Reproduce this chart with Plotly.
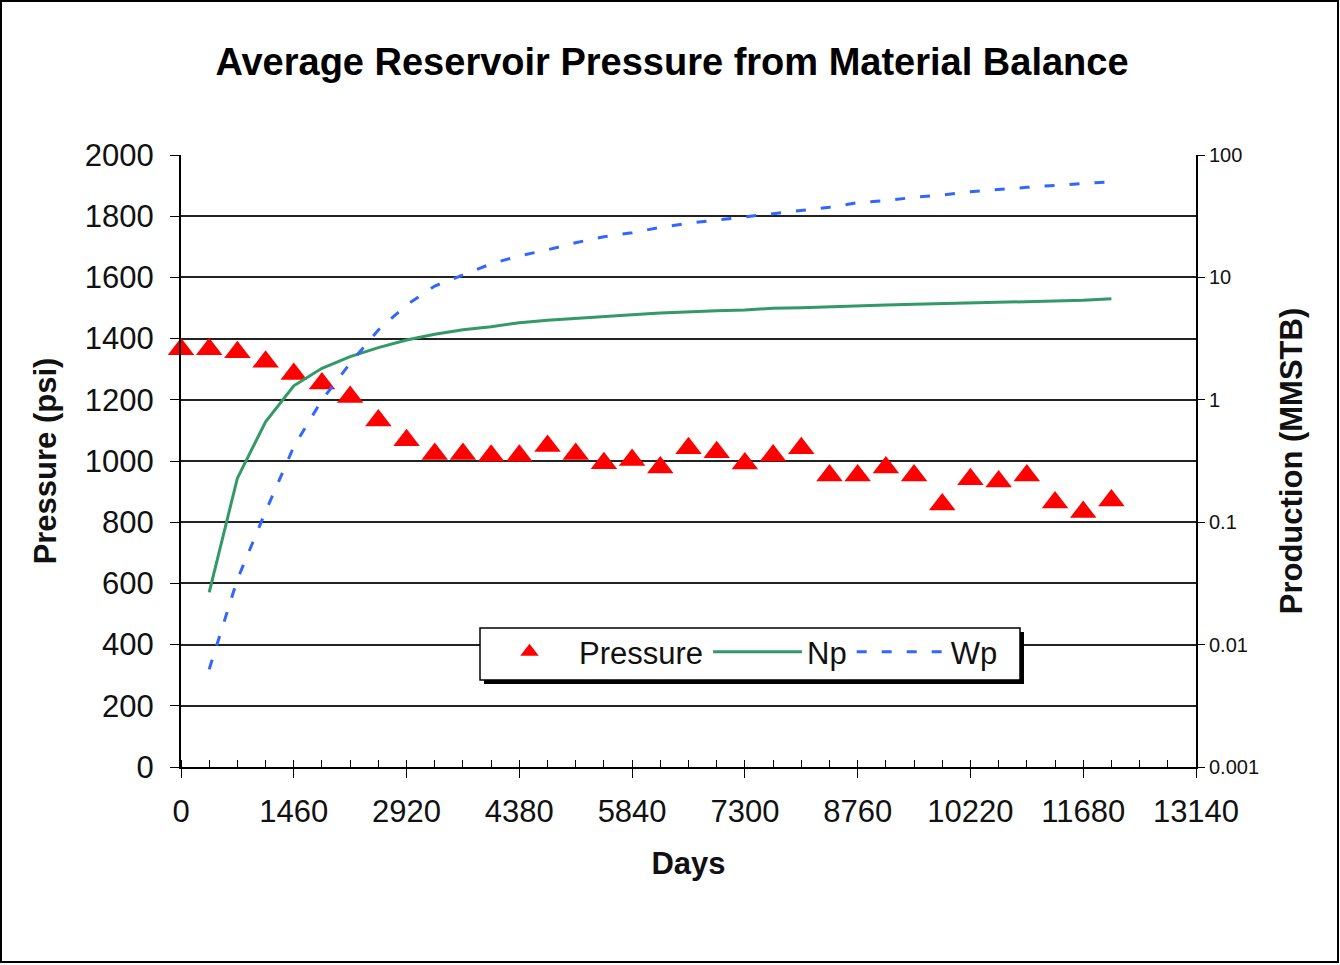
import plotly.graph_objects as go

# days since start (annual steps)
days = [0, 365, 730, 1095, 1460, 1825, 2190, 2555, 2920, 3285, 3650, 4015,
        4380, 4745, 5110, 5475, 5840, 6205, 6570, 6935, 7300, 7665, 8030,
        8395, 8760, 9125, 9490, 9855, 10220, 10585, 10950, 11315, 11680, 12045]

# average reservoir pressure, psi
pressure = [1365, 1365, 1355, 1324, 1284, 1253, 1209, 1132, 1068, 1023, 1023,
            1017, 1017, 1049, 1023, 993, 1003, 979, 1042, 1029, 992, 1018,
            1042, 953, 953, 979, 953, 858, 940, 933, 953, 864, 833, 871]

# cumulative production, MMSTB (start at day 365)
prod_days = days[1:]
np_oil = [0.0267, 0.229, 0.662, 1.30, 1.81, 2.25, 2.67, 3.08, 3.43, 3.74,
          3.96, 4.27, 4.46, 4.60, 4.78, 4.96, 5.12, 5.25, 5.35, 5.42, 5.60,
          5.65, 5.77, 5.88, 5.95, 6.03, 6.10, 6.18, 6.26, 6.33, 6.41, 6.50, 6.70]
wp_water = [0.00628, 0.0341, 0.122, 0.414, 0.996, 1.99, 3.72, 5.95, 8.51,
            10.4, 12.9, 15.0, 16.8, 19.2, 21.5, 23.2, 25.6, 27.7, 29.4, 31.3,
            33.4, 35.6, 37.4, 40.8, 42.4, 45.1, 47.1, 50.1, 52.4, 54.4, 56.5,
            58.6, 60.5]

x_ticks = [0, 1460, 2920, 4380, 5840, 7300, 8760, 10220, 11680, 13140]
x_labels = ["0", "1460", "2920", "4380", "5840", "7300", "8760", "10220",
            "11680", "13140"]
p_ticks = [0, 200, 400, 600, 800, 1000, 1200, 1400, 1600, 1800, 2000]
prod_ticks = [0.001, 0.01, 0.1, 1, 10, 100]
prod_labels = ["0.001", "0.01", "0.1", "1", "10", "100"]

W, H = 1340, 965
L, R, T, B = 181, 1196, 155, 767


def px(x):
    return (x - L) / (R - L)


def py(y):
    return (B - y) / (B - T)


FONT = "Liberation Sans, Arial, sans-serif"

fig = go.Figure()
fig.add_trace(go.Scatter(
    x=days, y=pressure, name="Pressure", mode="markers",
    marker=dict(symbol="triangle-up", size=23, color="#FF0000"),
    cliponaxis=False,
))
fig.add_trace(go.Scatter(
    x=prod_days, y=np_oil, name="Np", mode="lines", yaxis="y2",
    line=dict(color="#339966", width=3),
))
fig.add_trace(go.Scatter(
    x=prod_days, y=wp_water, name="Wp", mode="lines", yaxis="y2",
    line=dict(color="#3366FF", width=3, dash="10px,15px"),
))

fig.update_layout(
    width=W, height=H,
    margin=dict(l=L, r=W - R, t=T, b=H - B, pad=0),
    paper_bgcolor="white", plot_bgcolor="white",
    font=dict(family=FONT, color="#111", size=31),
    title=dict(text="<b>Average Reservoir Pressure from Material Balance</b>",
               x=0.5015, xanchor="center", y=1 - 62 / H, yanchor="middle",
               font=dict(size=38, color="black")),
    xaxis=dict(
        range=[0, 13140], tickvals=x_ticks, ticktext=x_labels,
        showgrid=False, zeroline=False,
        showline=True, linecolor="black", linewidth=2,
        ticks="outside", ticklen=9, tickcolor="black",
        ticklabelstandoff=7,
        minor=dict(dtick=365, tick0=0, ticks="inside", ticklen=7,
                   tickcolor="black", showgrid=False),
        title=dict(text="<b>Days</b>", standoff=24, font=dict(size=31)),
    ),
    yaxis=dict(
        range=[0, 2000], tickvals=p_ticks, showgrid=True, gridcolor="#222",
        gridwidth=2, zeroline=False, showline=True, linecolor="black",
        linewidth=2, ticks="outside", ticklen=9, tickcolor="black",
        ticklabelstandoff=10,
        title=dict(text="<b>Pressure (psi)</b>", standoff=19,
                   font=dict(size=31)),
    ),
    yaxis2=dict(
        type="log", range=[-3, 2], tickvals=prod_ticks, ticktext=prod_labels,
        overlaying="y", side="right", showgrid=False, zeroline=False,
        showline=True, linecolor="black", linewidth=2, ticks="outside",
        ticklen=7, tickcolor="black", tickfont=dict(size=20),
        title=dict(text="<b>Production (MMSTB)</b>", standoff=22,
                   font=dict(size=31)),
    ),
    legend=dict(
        orientation="h", x=px(480), y=py(625), xanchor="left", yanchor="top",
        bgcolor="rgba(0,0,0,0)", borderwidth=0,
        font=dict(size=31), itemwidth=89, traceorder="normal",
    ),
    shapes=[
        # legend drop shadow and box
        dict(type="rect", xref="paper", yref="paper",
             x0=px(484), x1=px(1024), y0=py(684), y1=py(632),
             fillcolor="black", line=dict(width=0), layer="above"),
        dict(type="rect", xref="paper", yref="paper",
             x0=px(480), x1=px(1020), y0=py(680), y1=py(628),
             fillcolor="white", line=dict(color="black", width=1.5),
             layer="above"),
        # outer chart border
        dict(type="rect", xref="paper", yref="paper",
             x0=px(1), x1=px(1338), y0=py(962), y1=py(1),
             line=dict(color="black", width=2), layer="below"),
    ],
)

fig.write_html("out.html", config={"displayModeBar": False},
               post_script="document.body.style.margin='0';")
